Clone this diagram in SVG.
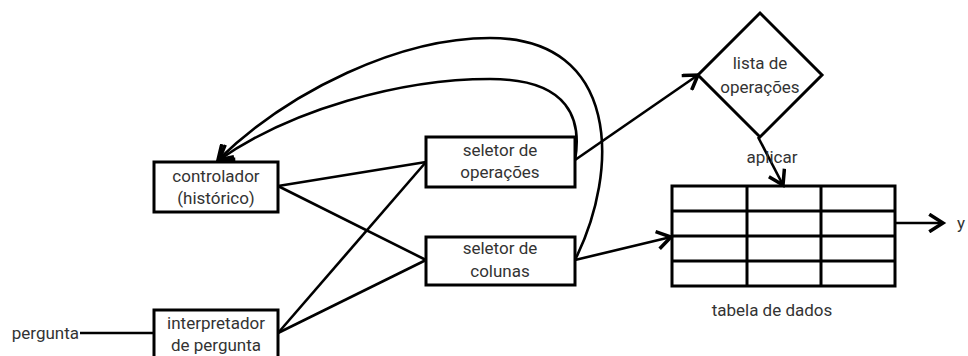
<svg xmlns="http://www.w3.org/2000/svg" width="968" height="356" viewBox="0 0 968 356">
  <style>
    .box { fill: #fff; stroke: #000; stroke-width: 3; }
    .grid { fill: none; stroke: #000; stroke-width: 3; }
    .edge { fill: none; stroke: #000; stroke-width: 2.6; }
    .arrow { marker-end: url(#head); }
    text { font-family: Roboto, "Liberation Sans", sans-serif; font-size: 17px; fill: #333; text-anchor: middle; }
  </style>
  <defs>
    <marker id="head" markerUnits="userSpaceOnUse" markerWidth="20" markerHeight="20" viewBox="-12 -8 14 16" refX="0" refY="0" orient="auto">
      <path d="M-11,-7 L0,0 L-11,7" fill="none" stroke="#000" stroke-width="2.8" stroke-linejoin="miter"/>
    </marker>
  </defs>

  <rect width="968" height="356" fill="#fff"/>

  <g id="connectors">
    <line class="edge" x1="80" y1="333" x2="154" y2="333"/>
    <line class="edge" x1="278" y1="186" x2="426" y2="162"/>
    <line class="edge" x1="278" y1="186" x2="426" y2="260"/>
    <line class="edge" x1="278" y1="333" x2="426" y2="162"/>
    <line class="edge" x1="278" y1="333" x2="426" y2="260"/>
    <path class="edge arrow" d="M575,260 C620,170 620,38 490,38 C400,38 290,90 218,160"/>
    <path class="edge arrow" d="M575,160 C582,120 570,79 490,79 C400,79 290,110 219,160"/>
    <line class="edge arrow" x1="575" y1="160" x2="698" y2="75"/>
    <line class="edge arrow" x1="575" y1="260" x2="671" y2="237"/>
    <line class="edge arrow" x1="758" y1="137" x2="783" y2="185"/>
    <line class="edge arrow" x1="895" y1="223" x2="943" y2="223"/>
    <text x="772" y="163">aplicar</text>
  </g>

  <g id="pergunta">
    <text x="79" y="339" style="text-anchor:end">pergunta</text>
  </g>

  <g id="controlador">
    <rect class="box" x="154" y="162" width="124" height="50"/>
    <text x="216" y="182">controlador</text>
    <text x="216" y="204">(histórico)</text>
  </g>

  <g id="interpretador">
    <rect class="box" x="154" y="310" width="124" height="52"/>
    <text x="216" y="329">interpretador</text>
    <text x="216" y="351">de pergunta</text>
  </g>

  <g id="seletor-operacoes">
    <rect class="box" x="426" y="137" width="149" height="50"/>
    <text x="500" y="156">seletor de</text>
    <text x="500" y="178">operações</text>
  </g>

  <g id="seletor-colunas">
    <rect class="box" x="426" y="237" width="149" height="48"/>
    <text x="500" y="254">seletor de</text>
    <text x="500" y="277">colunas</text>
  </g>

  <g id="lista-operacoes">
    <polygon class="box" points="760,13 822,75 760,137 698,75"/>
    <text x="760" y="69">lista de</text>
    <text x="760" y="93">operações</text>
  </g>

  <g id="tabela-dados">
    <rect class="grid" x="672" y="186" width="223" height="100"/>
    <line class="grid" x1="672" y1="211" x2="895" y2="211"/>
    <line class="grid" x1="672" y1="236" x2="895" y2="236"/>
    <line class="grid" x1="672" y1="261" x2="895" y2="261"/>
    <line class="grid" x1="747" y1="186" x2="747" y2="286"/>
    <line class="grid" x1="821" y1="186" x2="821" y2="286"/>
    <text x="772" y="316">tabela de dados</text>
  </g>

  <g id="saida">
    <text x="957" y="229" style="text-anchor:start">y</text>
  </g>
</svg>
